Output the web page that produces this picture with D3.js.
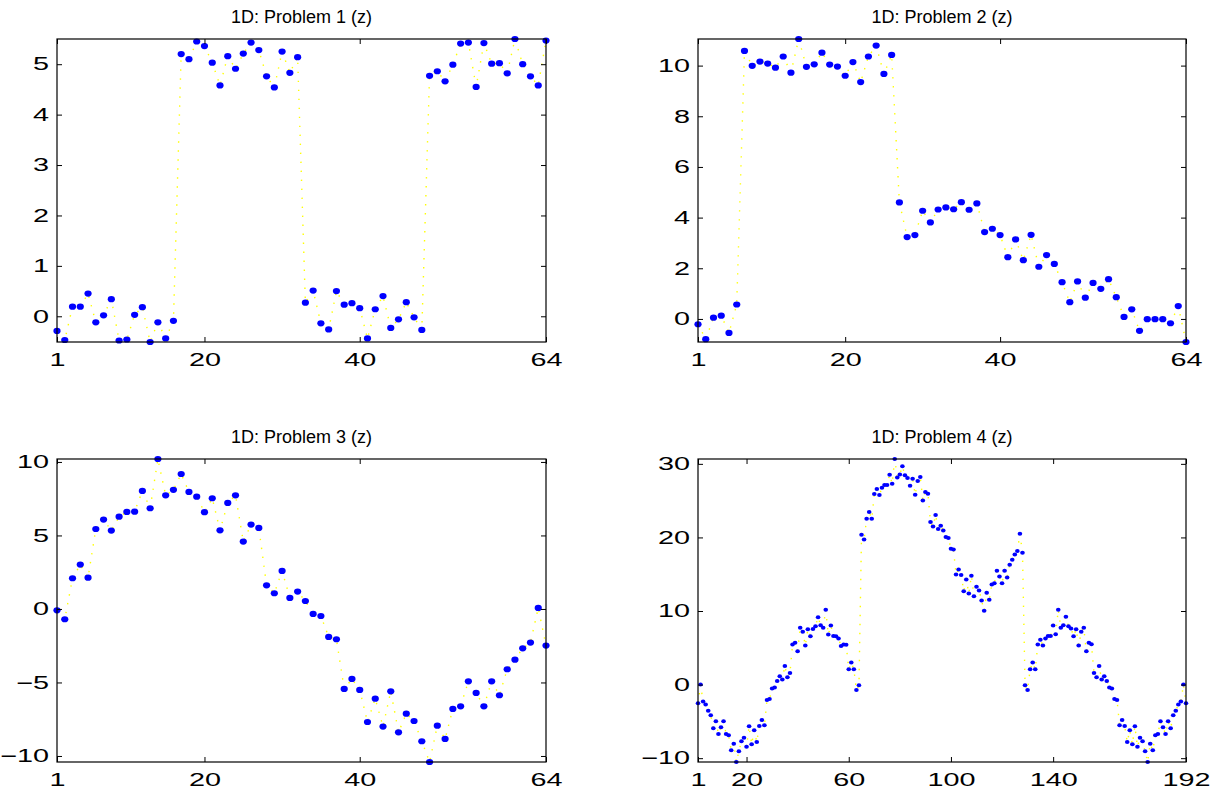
<!DOCTYPE html>
<html>
<head>
<meta charset="utf-8">
<script src="https://cdn.jsdelivr.net/npm/d3@7"></script>
<style>
  body { margin: 0; background: #fff; }
  text { font-family: "Liberation Sans", Arial, Helvetica, sans-serif; }
</style>
</head>
<body>
<div id="chart"></div>
<script>
// values
var titles = ["1D: Problem 1 (z)", "1D: Problem 2 (z)", "1D: Problem 3 (z)", "1D: Problem 4 (z)"];

var prob1 = [-0.29, -0.47, 0.19, 0.19, 0.45, -0.12, 0.02, 0.34, -0.48, -0.46, 0.03, 0.18, -0.51, -0.12, -0.44, -0.09,
    5.20, 5.10, 5.45, 5.36, 5.03, 4.58, 5.16, 4.91, 5.21, 5.43, 5.28, 4.76, 4.54, 5.25, 4.83, 5.14,
    0.27, 0.51, -0.14, -0.26, 0.50, 0.23, 0.26, 0.16, -0.44, 0.14, 0.40, -0.23, -0.06, 0.28, -0.02, -0.27,
    4.77, 4.86, 4.66, 4.99, 5.41, 5.43, 4.55, 5.42, 5.01, 5.02, 4.82, 5.50, 5.00, 4.76, 4.58, 5.47];

var prob2 = [-0.21, -0.80, 0.05, 0.13, -0.55, 0.57, 10.58, 9.99, 10.16, 10.08, 9.92, 10.36, 9.72, 11.05, 9.95, 10.05,
    10.51, 10.04, 9.96, 9.60, 10.14, 9.35, 10.36, 10.79, 9.67, 10.42, 4.60, 3.23, 3.31, 4.27, 3.81, 4.32,
    4.40, 4.33, 4.61, 4.31, 4.56, 3.43, 3.56, 3.31, 2.44, 3.14, 2.32, 3.32, 2.06, 2.52, 2.17, 1.45,
    0.66, 1.48, 0.84, 1.42, 1.19, 1.57, 0.86, 0.08, 0.38, -0.47, -0.01, -0.01, -0.01, -0.17, 0.51, -0.91];

var prob3 = [-0.09, -0.70, 2.09, 3.02, 2.13, 5.44, 6.08, 5.33, 6.28, 6.60, 6.62, 8.03, 6.85, 10.20, 7.73, 8.10,
    9.18, 7.96, 7.64, 6.58, 7.53, 5.35, 7.21, 7.73, 4.58, 5.74, 5.51, 1.61, 1.07, 2.59, 0.75, 1.18,
    0.54, -0.34, -0.48, -1.90, -2.06, -5.44, -4.76, -5.51, -7.69, -6.10, -8.00, -5.60, -8.39, -7.12, -7.62, -9.00,
    -10.41, -7.94, -8.84, -6.80, -6.62, -4.92, -5.71, -6.62, -4.92, -5.87, -4.10, -3.45, -2.68, -2.29, 0.07, -2.49];

var prob4 = [-2.54, 0.00, -2.31, -2.72, -3.54, -4.17, -5.94, -4.99, -6.71, -5.80, -4.99, -6.71, -6.89, -8.93, -8.03, -10.52,
    -9.07, -7.71, -7.21, -8.44, -5.67, -8.12, -6.21, -7.80, -5.62, -4.81, -5.53, -2.09, -1.95, -0.54, -0.41, 0.50,
    1.13, 0.68, 2.54, 1.00, 1.59, 5.44, 5.67, 4.54, 7.71, 7.17, 5.31, 7.53, 6.58, 7.57, 7.94, 9.16,
    8.07, 7.71, 10.16, 6.80, 8.03, 6.62, 6.58, 6.26, 5.26, 5.44, 5.40, 2.09, 2.99, 2.09, -0.73, -0.09,
    20.36, 19.73, 22.54, 23.45, 22.54, 25.90, 26.58, 25.76, 26.76, 27.12, 27.12, 28.53, 27.30, 30.66, 28.16, 28.57,
    29.66, 28.44, 28.07, 27.03, 27.98, 25.80, 27.66, 28.21, 25.03, 26.17, 25.94, 22.09, 21.50, 23.04, 21.13, 21.59,
    20.95, 20.05, 19.91, 18.46, 18.37, 14.97, 15.65, 14.88, 12.70, 14.29, 12.38, 14.78, 12.02, 13.29, 12.79, 11.43,
    10.02, 12.47, 11.52, 13.61, 13.79, 15.46, 14.69, 13.79, 15.46, 14.56, 16.28, 16.96, 17.69, 18.14, 20.50, 17.91,
    -0.09, -0.73, 2.09, 2.99, 2.09, 5.44, 6.08, 5.31, 6.26, 6.62, 6.62, 8.03, 6.85, 10.16, 7.71, 8.07,
    9.21, 7.94, 7.62, 6.58, 7.53, 5.31, 7.17, 7.71, 4.54, 5.67, 5.49, 1.59, 1.00, 2.54, 0.68, 1.13,
    0.50, -0.41, -0.54, -1.95, -2.09, -5.53, -4.81, -5.62, -7.80, -6.21, -8.12, -5.67, -8.44, -7.21, -7.71, -9.07,
    -10.52, -8.03, -8.93, -6.89, -6.71, -4.99, -5.80, -6.71, -4.99, -5.94, -4.17, -3.54, -2.72, -2.31, 0.00, -2.54];

var xTicks = [[1, 20, 40, 64], [1, 20, 40, 64], [1, 20, 40, 64], [1, 20, 60, 100, 140, 192]];
var yTicks = [[0, 1, 2, 3, 4, 5], [0, 2, 4, 6, 8, 10], [-10, -5, 0, 5, 10], [-10, 0, 10, 20, 30]];
var series = [prob1, prob2, prob3, prob4];

// layout
var cols = [[57, 546], [698, 1186]],
    rows = [[39, 342], [459, 762]],
    stretch = 1.6;

var svg = d3.select("#chart")
    .append("svg")
    .attr("width", 1220)
    .attr("height", 795);

var fmt = function(d) { return d < 0 ? "\u2212" + Math.abs(d) : String(d); };

series.forEach(function(vals, k) {
    var c = cols[k % 2], r = rows[Math.floor(k / 2)];
    var n = vals.length;
    var big = n > 100;

    var x = d3.scaleLinear().domain([1, n]).range(c);
    var y = d3.scaleLinear().domain(d3.extent(vals)).range([r[1], r[0]]);

    var g = svg.append("g").attr("class", "panel");

    // dotted yellow line under the dots
    var line = d3.line()
        .x(function(d, i) { return x(i + 1); })
        .y(function(d) { return y(d); });

    g.append("path")
        .datum(vals)
        .attr("d", line)
        .attr("fill", "none")
        .attr("stroke", "#ffff00")
        .attr("stroke-width", 1.4)
        .attr("stroke-dasharray", "1.4,7.6");

    g.selectAll("ellipse.dot")
        .data(vals)
        .enter().append("ellipse")
        .attr("class", "dot")
        .attr("cx", function(d, i) { return x(i + 1); })
        .attr("cy", function(d) { return y(d); })
        .attr("rx", big ? 2.3 : 3.6)
        .attr("ry", big ? 2.0 : 3.1)
        .attr("fill", "#0000ff");

    // axes, ticks pointing inward
    var bottom = g.append("g")
        .attr("transform", "translate(0," + r[1] + ")")
        .call(d3.axisBottom(x).tickValues(xTicks[k]).tickSize(-5).tickSizeOuter(0).tickPadding(11).tickFormat(fmt));
    var left = g.append("g")
        .attr("transform", "translate(" + c[0] + ",0)")
        .call(d3.axisLeft(y).tickValues(yTicks[k]).tickSize(-5).tickSizeOuter(0).tickFormat(fmt));
    var top = g.append("g")
        .attr("transform", "translate(0," + r[0] + ")")
        .call(d3.axisTop(x).tickValues(xTicks[k]).tickSize(-5).tickSizeOuter(0).tickFormat(""));
    var right = g.append("g")
        .attr("transform", "translate(" + c[1] + ",0)")
        .call(d3.axisRight(y).tickValues(yTicks[k]).tickSize(-5).tickSizeOuter(0).tickFormat(""));

    [bottom, left, top, right].forEach(function(a) {
        a.select(".domain").remove();
        a.selectAll(".tick line").attr("stroke", "#000");
    });

    bottom.selectAll("text")
        .attr("font-size", 18)
        .attr("font-family", "Liberation Sans, Arial, sans-serif")
        .attr("fill", "#000")
        .attr("transform", "scale(" + stretch + ",1)");

    left.selectAll("text")
        .attr("font-size", 18)
        .attr("font-family", "Liberation Sans, Arial, sans-serif")
        .attr("fill", "#000")
        .attr("x", -8 / stretch)
        .attr("transform", "scale(" + stretch + ",1)");

    g.append("rect")
        .attr("x", c[0]).attr("y", r[0])
        .attr("width", c[1] - c[0]).attr("height", r[1] - r[0])
        .attr("fill", "none")
        .attr("stroke", "#000")
        .attr("stroke-width", 1.2);

    g.append("text")
        .attr("x", (c[0] + c[1]) / 2)
        .attr("y", r[0] - 16.3)
        .attr("text-anchor", "middle")
        .attr("font-size", 18)
        .attr("fill", "#000")
        .text(titles[k]);
});
</script>
</body>
</html>
